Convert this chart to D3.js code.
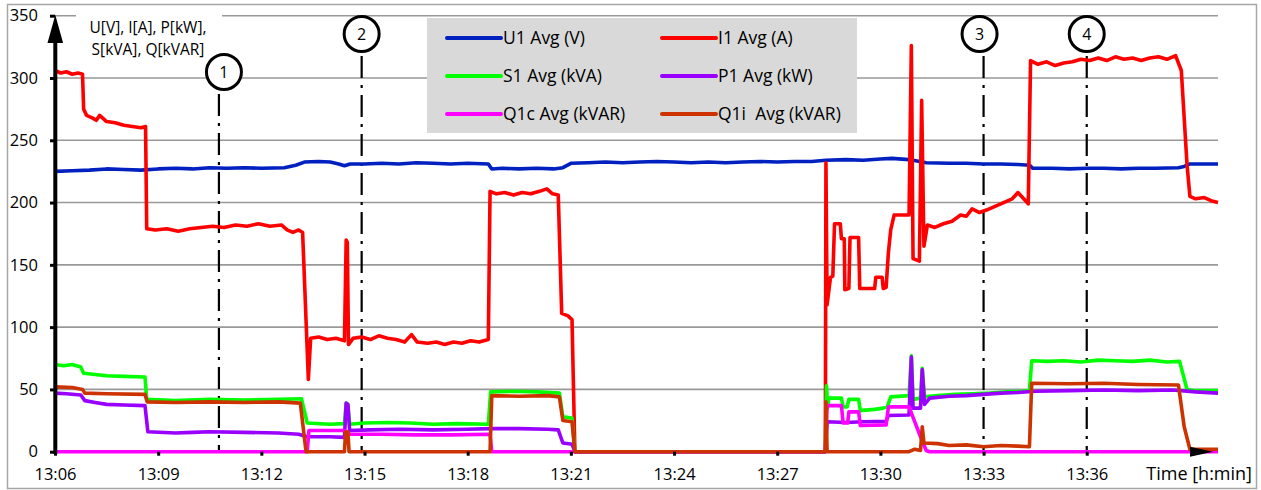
<!DOCTYPE html>
<html>
<head>
<meta charset="utf-8">
<script src="https://cdn.jsdelivr.net/npm/d3@7"></script>
<style>
  body { margin: 0; background: #fff; }
  text { font-family: "Open Sans", sans-serif; fill: #000; }
</style>
</head>
<body>
<div id="container"></div>
<script>
// time of day, value
var u1 = [["13:06:00",225],["13:06:30",225.5],["13:07:00",226],["13:07:30",227],["13:08:00",226.5],["13:08:30",226],
  ["13:09:00",227],["13:09:30",227.5],["13:10:00",227],["13:10:30",228],["13:11:00",227.5],["13:11:30",228],
  ["13:12:00",227.5],["13:12:40",228],["13:13:00",230],["13:13:15",232.5],["13:13:40",233],["13:14:00",232.5],
  ["13:14:15",231],["13:14:25",229.5],["13:14:35",231],["13:15:00",231],["13:15:30",231.5],["13:16:00",231],
  ["13:16:30",232],["13:17:00",231.5],["13:17:30",231],["13:18:00",231.5],["13:18:36",231],["13:18:42",227],
  ["13:19:00",227.5],["13:19:30",227],["13:20:00",227.5],["13:20:30",227],["13:20:46",228],["13:21:00",231.5],
  ["13:21:30",232],["13:22:00",232.5],["13:22:30",232],["13:23:00",232.5],["13:23:30",233],["13:24:00",232.5],
  ["13:24:30",232],["13:25:00",232.5],["13:25:30",232],["13:26:00",232.5],["13:26:30",233],["13:27:00",232.5],
  ["13:27:30",233],["13:28:00",233],["13:28:25",234],["13:29:00",234.5],["13:29:30",234],["13:30:00",235],
  ["13:30:20",235.5],["13:30:50",234.5],["13:31:20",232],["13:32:00",231.5],["13:32:30",231.5],["13:33:00",231],
  ["13:33:30",231],["13:34:00",230.5],["13:34:20",230],["13:34:26",227.5],["13:35:00",227.5],["13:35:30",227],
  ["13:36:00",227.5],["13:36:30",227.5],["13:37:00",227],["13:37:30",227.5],["13:38:00",227.5],["13:38:40",228],
  ["13:38:50",229],["13:39:00",231],["13:39:49",231]];

var i1 = [["13:06:00",306],["13:06:10",304],["13:06:20",305],["13:06:30",303],["13:06:40",304],["13:06:48",303],
  ["13:06:50",275],["13:06:55",270],["13:07:05",268],["13:07:12",266],["13:07:18",270],["13:07:30",265],
  ["13:07:45",264],["13:08:00",262],["13:08:15",261],["13:08:30",260],["13:08:38",261],["13:08:40",179],
  ["13:08:55",178],["13:09:15",179],["13:09:35",177],["13:09:55",179],["13:10:15",180],["13:10:35",181],
  ["13:10:55",180],["13:11:15",182],["13:11:35",181],["13:11:55",183],["13:12:15",181],["13:12:35",182],
  ["13:12:45",178],["13:12:55",176],["13:13:05",178],["13:13:12",176],["13:13:22",58],["13:13:26",91],
  ["13:13:40",92],["13:13:55",90],["13:14:10",91],["13:14:25",89],["13:14:28",170],["13:14:30",168],
  ["13:14:32",86],["13:14:40",91],["13:14:55",92],["13:15:10",90],["13:15:25",93],["13:15:40",91],
  ["13:15:55",90],["13:16:10",88],["13:16:22",94],["13:16:32",88],["13:16:50",87],["13:17:05",88],
  ["13:17:20",86],["13:17:35",88],["13:17:50",87],["13:18:05",89],["13:18:20",88],["13:18:36",90],
  ["13:18:39",209],["13:18:50",207],["13:19:05",208],["13:19:20",206],["13:19:35",208],["13:19:50",207],
  ["13:20:05",209],["13:20:18",211],["13:20:28",207],["13:20:38",206],["13:20:44",111],["13:20:55",109],
  ["13:21:02",106],["13:21:07",0],["13:28:24",0],["13:28:25",232],["13:28:27",118],["13:28:33",140],
  ["13:28:37",141],["13:28:40",183],["13:28:50",183],["13:28:52",171],["13:28:57",171],["13:28:58",130],
  ["13:29:05",131],["13:29:07",172],["13:29:22",172],["13:29:24",131],["13:29:50",131],["13:29:52",140],
  ["13:30:03",140],["13:30:05",131],["13:30:10",132],["13:30:14",160],["13:30:18",178],["13:30:24",190],
  ["13:30:50",190],["13:30:54",326],["13:30:57",155],["13:31:08",153],["13:31:12",282],["13:31:16",165],
  ["13:31:22",182],["13:31:35",180],["13:31:50",183],["13:32:05",185],["13:32:20",190],["13:32:30",189],
  ["13:32:40",195],["13:32:53",192],["13:33:05",194],["13:33:20",197],["13:33:35",200],["13:33:50",203],
  ["13:34:00",208],["13:34:10",203],["13:34:18",199],["13:34:22",314],["13:34:35",311],["13:34:50",313],
  ["13:35:05",310],["13:35:20",312],["13:35:35",313],["13:35:50",315],["13:36:05",314],["13:36:20",316],
  ["13:36:35",314],["13:36:50",317],["13:37:05",315],["13:37:20",316],["13:37:35",314],["13:37:50",316],
  ["13:38:05",317],["13:38:20",315],["13:38:35",318],["13:38:45",306],["13:38:55",230],["13:39:00",205],
  ["13:39:10",203],["13:39:25",204],["13:39:40",201],["13:39:49",200]];

var s1 = [["13:06:00",70],["13:06:15",69],["13:06:30",70],["13:06:45",68],["13:06:50",63],["13:07:10",62],
  ["13:07:30",61],["13:08:00",60.5],["13:08:37",60],["13:08:40",42],["13:09:30",41],["13:10:30",42],
  ["13:11:30",41.5],["13:12:30",42],["13:13:10",42.5],["13:13:20",23],["13:14:00",22],["13:14:25",22.5],
  ["13:14:28",39],["13:14:31",38],["13:14:34",22],["13:15:00",23],["13:15:40",23.5],["13:16:20",23],
  ["13:17:00",22],["13:17:40",22.5],["13:18:36",22],["13:18:40",48],["13:19:20",48.5],["13:20:00",48],
  ["13:20:40",47],["13:20:46",28],["13:21:02",27],["13:21:07",0],["13:28:24",0],["13:28:26",53],
  ["13:28:28",35],["13:28:30",43],["13:28:52",43],["13:28:55",36],["13:29:02",36],["13:29:05",42],
  ["13:29:22",42],["13:29:25",33],["13:29:50",34],["13:30:05",35],["13:30:12",36],["13:30:18",44],
  ["13:30:50",45],["13:30:54",77],["13:30:57",42],["13:31:10",43],["13:31:13",67],["13:31:17",44],
  ["13:31:40",45],["13:32:10",46],["13:32:40",46.5],["13:33:10",47],["13:33:40",48],["13:34:10",48.5],
  ["13:34:20",49],["13:34:24",73],["13:34:50",72.5],["13:35:20",73],["13:35:50",72],["13:36:20",73.5],
  ["13:36:50",73],["13:37:20",72.5],["13:37:50",73.5],["13:38:20",72],["13:38:42",72.5],["13:38:55",50],
  ["13:39:10",49],["13:39:49",49]];

var p1 = [["13:06:00",47],["13:06:20",46.5],["13:06:45",45.5],["13:06:52",41],["13:07:10",39.5],["13:07:30",38],
  ["13:08:00",37.5],["13:08:37",37],["13:08:42",16],["13:09:30",15],["13:10:00",15.5],["13:10:30",16],
  ["13:11:30",15.5],["13:12:30",15],["13:13:05",14],["13:13:20",12],["13:14:00",12],["13:14:25",11.5],
  ["13:14:28",39],["13:14:31",38],["13:14:34",17],["13:15:10",17.5],["13:16:00",18],["13:17:00",17.5],
  ["13:18:00",18],["13:18:40",18.5],["13:19:30",18.5],["13:20:20",18],["13:20:38",17.5],["13:20:46",7],
  ["13:21:02",6],["13:21:07",0],["13:28:24",0],["13:28:27",24],["13:29:00",23.5],["13:29:30",24],
  ["13:30:10",24.5],["13:30:14",29],["13:30:50",29.5],["13:30:54",76],["13:30:57",35],["13:31:10",35],
  ["13:31:13",66],["13:31:17",38],["13:31:26",43],["13:32:00",44.5],["13:32:30",45],["13:33:00",46],
  ["13:33:30",47],["13:34:00",47.5],["13:34:30",48.5],["13:35:30",49],["13:36:30",49.5],["13:37:30",49],
  ["13:38:30",49.5],["13:39:10",48],["13:39:49",47]];

var q1c = [["13:06:00",0],["13:13:20",0],["13:13:23",17],["13:14:25",17],["13:14:35",14],["13:15:30",14],
  ["13:16:30",13.5],["13:17:30",13.5],["13:18:39",14],["13:18:42",0],["13:28:24",0],["13:28:27",37],
  ["13:28:52",37],["13:28:55",23],["13:29:03",23],["13:29:05",32],["13:29:22",32],["13:29:25",21],
  ["13:30:10",21.5],["13:30:14",36],["13:30:50",36],["13:31:00",24],["13:31:10",12],["13:31:20",1],
  ["13:31:26",0],["13:39:49",0]];

var q1i = [["13:06:00",52],["13:06:30",51.5],["13:06:48",50],["13:06:52",47],["13:07:30",46.5],["13:08:37",46],
  ["13:08:41",40],["13:09:30",39.5],["13:10:30",40],["13:11:30",39.5],["13:12:30",40],["13:13:08",39],
  ["13:13:18",0],["13:14:25",0],["13:14:27",16],["13:14:31",16],["13:14:33",0],["13:18:39",0],
  ["13:18:42",45],["13:19:30",44.5],["13:20:20",45],["13:20:40",44],["13:20:46",25],["13:21:02",24],
  ["13:21:07",0],["13:28:24",0],["13:28:25",40],["13:28:27",0],["13:30:50",0],["13:31:00",2],
  ["13:31:10",1],["13:31:13",20],["13:31:16",7],["13:31:40",6.5],["13:32:00",5],["13:32:30",5.5],
  ["13:33:00",4],["13:33:30",5],["13:34:00",4.5],["13:34:20",4],["13:34:24",55],["13:35:30",54.5],
  ["13:36:30",55],["13:37:30",54],["13:38:40",53.5],["13:38:50",20],["13:39:00",2],["13:39:49",2]];

var seriesNames = ["U1 Avg (V)", "I1 Avg (A)", "S1 Avg (kVA)", "P1 Avg (kW)", "Q1c Avg (kVAR)", "Q1i  Avg (kVAR)"];
var seriesColors = ["#0020c0", "#ff0000", "#00ff00", "#9900ff", "#ff00ff", "#cc3300"];
var seriesData = [u1, i1, s1, p1, q1c, q1i];

var yTicks = [0, 50, 100, 150, 200, 250, 300, 350];
var xTicks = ["13:06", "13:09", "13:12", "13:15", "13:18", "13:21", "13:24", "13:27", "13:30", "13:33", "13:36"];
var markers = [["1", "13:10:46"], ["2", "13:14:55"], ["3", "13:33:00"], ["4", "13:36:00"]];

var W = 1261, H = 490;
var parseT = d3.timeParse("%H:%M:%S");

var svg = d3.select("#container").append("svg")
    .attr("width", W)
    .attr("height", H);

svg.append("rect").attr("width", W).attr("height", H).attr("fill", "#fff");
svg.append("rect")
    .attr("x", 7.5).attr("y", 4.5).attr("width", 1249).attr("height", 484)
    .attr("fill", "none").attr("stroke", "#a6a6a6").attr("stroke-width", 1.5);

var x = d3.scaleTime()
    .domain([parseT("13:06:00"), parseT("13:39:49")])
    .range([55, 1218]);
var y = d3.scaleLinear()
    .domain([0, 350])
    .range([451.7, 15.7]);

// gridlines
svg.append("g").selectAll("line")
    .data(yTicks.filter(function(d){ return d > 0; }))
  .enter().append("line")
    .attr("x1", 55).attr("x2", 1218)
    .attr("y1", function(d){ return y(d); })
    .attr("y2", function(d){ return y(d); })
    .attr("stroke", "#999").attr("stroke-width", 1.6);

// legend box
var legend = svg.append("g");
legend.append("rect")
    .attr("x", 427).attr("y", 18).attr("width", 430).attr("height", 115)
    .attr("fill", "#d9d9d9");
seriesNames.forEach(function(name, i) {
  var lx = (i % 2 == 0) ? 447 : 662;
  var ly = 38 + Math.floor(i / 2) * 38;
  legend.append("line")
      .attr("x1", lx).attr("x2", lx + 54)
      .attr("y1", ly).attr("y2", ly)
      .attr("stroke", seriesColors[i]).attr("stroke-width", 4)
      .attr("stroke-linecap", "round");
  legend.append("text")
      .attr("x", lx + 56).attr("y", ly)
      .attr("dy", "0.35em")
      .style("font-size", "17.5px")
      .style("white-space", "pre")
      .text(name);
});

// y axis title
svg.append("rect")
    .attr("x", 76).attr("y", 8).attr("width", 146).attr("height", 52)
    .attr("fill", "#fff");
svg.append("text")
    .attr("x", 148).attr("y", 33)
    .attr("text-anchor", "middle")
    .style("font-size", "15.5px")
    .text("U[V], I[A], P[kW],");
svg.append("text")
    .attr("x", 148).attr("y", 55)
    .attr("text-anchor", "middle")
    .style("font-size", "15.5px")
    .text("S[kVA], Q[kVAR]");

// dash-dot markers
var circleShift = [5, 0, -4, 0];
var markG = svg.append("g");
markers.forEach(function(m, i) {
  var mx = x(parseT(m[1]));
  var cy = (i == 0) ? 72 : 34;
  var cx = mx + circleShift[i];
  markG.append("line")
      .attr("x1", mx).attr("x2", mx)
      .attr("y1", cy + 22).attr("y2", y(0))
      .attr("stroke", "#000").attr("stroke-width", 2.2)
      .attr("stroke-dasharray", "22,7,3,7");
  markG.append("circle")
      .attr("cx", cx).attr("cy", cy).attr("r", 17.5)
      .attr("fill", "#fff").attr("stroke", "#000").attr("stroke-width", 3);
  markG.append("text")
      .attr("x", cx).attr("y", cy)
      .attr("dy", "0.36em")
      .attr("text-anchor", "middle")
      .style("font-size", "16px")
      .text(m[0]);
});

// series
var line = d3.line()
    .x(function(d){ return x(parseT(d[0])); })
    .y(function(d){ return y(d[1]); });

seriesData.forEach(function(data, i) {
  svg.append("path")
      .datum(data)
      .attr("fill", "none")
      .attr("stroke", seriesColors[i])
      .attr("stroke-width", 3.6)
      .attr("stroke-linejoin", "round")
      .attr("d", line);
});

// x axis
var xAxis = svg.append("g")
    .attr("transform", "translate(0," + y(0) + ")")
    .call(d3.axisBottom(x)
      .tickValues(xTicks.map(function(t){ return parseT(t + ":00"); }))
      .tickFormat(d3.timeFormat("%H:%M"))
      .tickSize(4)
      .tickPadding(12.5));
xAxis.select(".domain").remove();
xAxis.selectAll(".tick line").attr("stroke", "#000").attr("stroke-width", 3);
xAxis.selectAll(".tick text").style("font-size", "16.5px").attr("font-family", null);

svg.append("path")
    .attr("d", "M1190," + (y(0) - 5) + "L1213," + y(0) + "L1190," + (y(0) + 5) + "Z")
    .attr("fill", "#000");

svg.append("text")
    .attr("x", 1252).attr("y", 480)
    .attr("text-anchor", "end")
    .style("font-size", "18px")
    .text("Time [h:min]");

// y axis
var yAxis = svg.append("g")
    .attr("transform", "translate(55,0)")
    .call(d3.axisLeft(y)
      .tickValues(yTicks)
      .tickSize(5)
      .tickPadding(12));
yAxis.select(".domain").remove();
yAxis.selectAll(".tick line").attr("stroke", "#000").attr("stroke-width", 3);
yAxis.selectAll(".tick text").style("font-size", "16.5px").attr("font-family", null);

svg.append("line")
    .attr("x1", 55.3).attr("x2", 55.3)
    .attr("y1", y(0) + 2).attr("y2", 40)
    .attr("stroke", "#000").attr("stroke-width", 4);
svg.append("path")
    .attr("d", "M47.5,43L55.3,15L63.1,43Z")
    .attr("fill", "#000");
</script>
</body>
</html>
